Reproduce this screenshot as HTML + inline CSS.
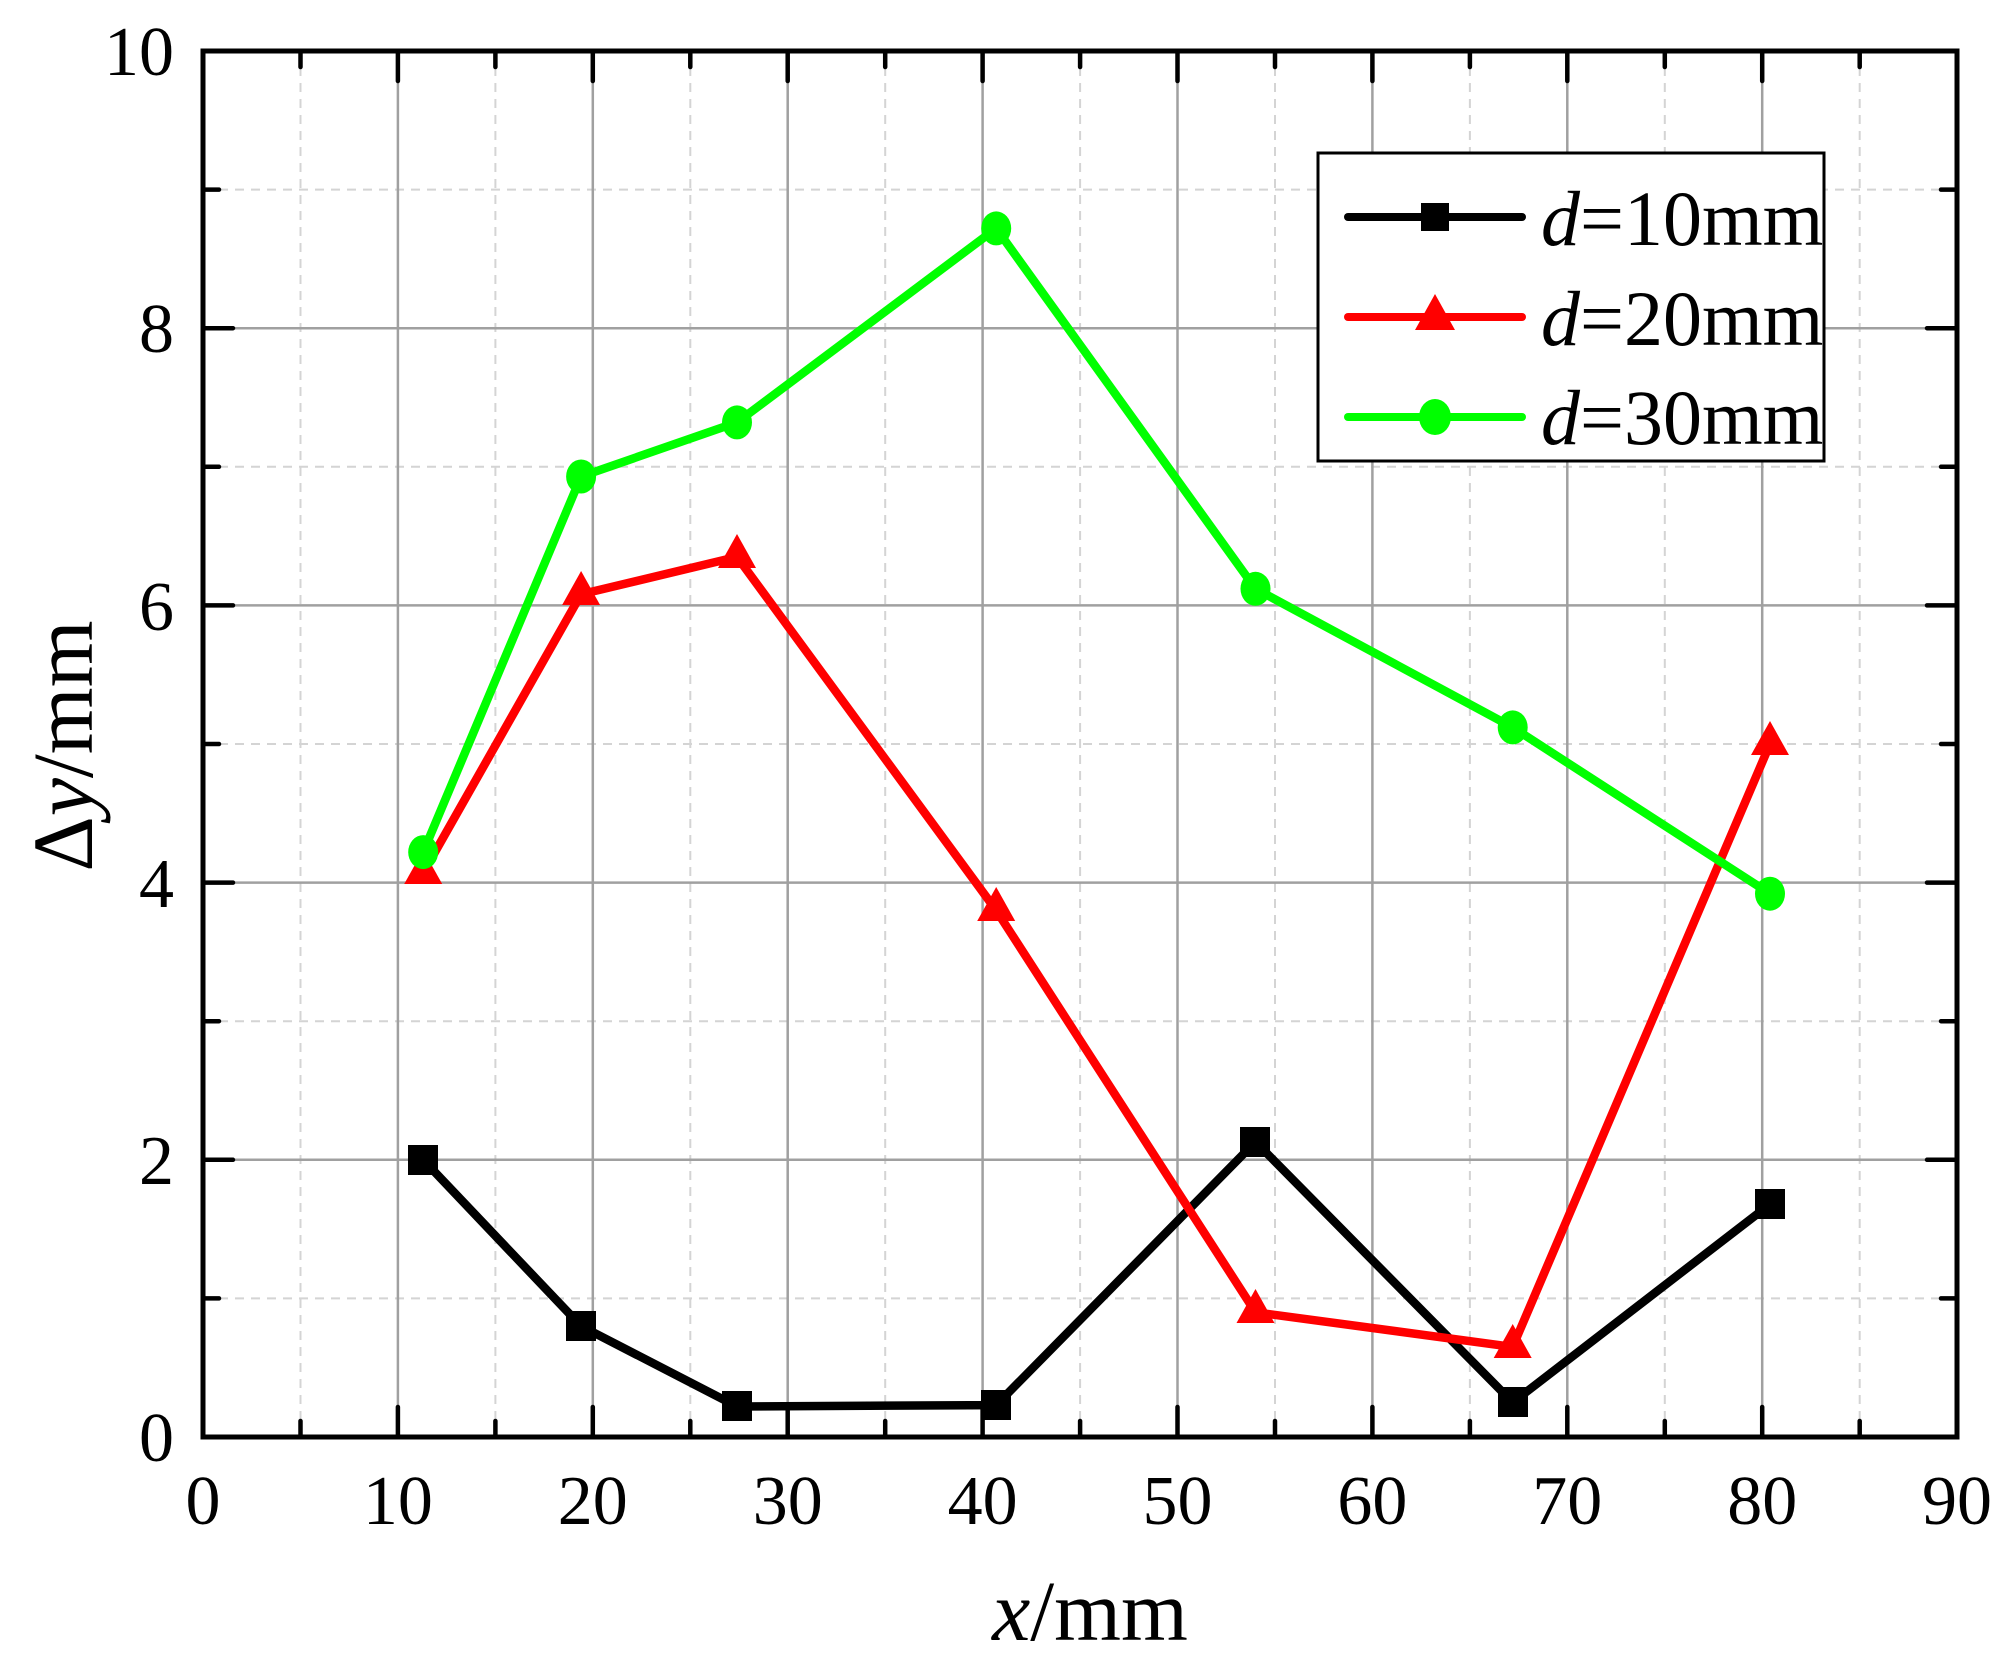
<!DOCTYPE html>
<html><head><meta charset="utf-8"><style>html,body{margin:0;padding:0;background:#fff}svg{display:block}svg text{font-family:"Liberation Serif","Times New Roman",serif}</style></head>
<body>
<svg width="2014" height="1669" viewBox="0 0 2014 1669" xmlns="http://www.w3.org/2000/svg" font-family="'Liberation Serif', serif">
<rect width="2014" height="1669" fill="#fff"/>
<g stroke="#d4d4d4" stroke-width="2" stroke-dasharray="9,7">
<line x1="300.5" y1="51" x2="300.5" y2="1437"/><line x1="495.4" y1="51" x2="495.4" y2="1437"/><line x1="690.3" y1="51" x2="690.3" y2="1437"/><line x1="885.2" y1="51" x2="885.2" y2="1437"/><line x1="1080.1" y1="51" x2="1080.1" y2="1437"/><line x1="1275" y1="51" x2="1275" y2="1437"/><line x1="1469.9" y1="51" x2="1469.9" y2="1437"/><line x1="1664.8" y1="51" x2="1664.8" y2="1437"/><line x1="1859.7" y1="51" x2="1859.7" y2="1437"/>
<line x1="203" y1="1298.4" x2="1957" y2="1298.4"/><line x1="203" y1="1021.2" x2="1957" y2="1021.2"/><line x1="203" y1="744" x2="1957" y2="744"/><line x1="203" y1="466.8" x2="1957" y2="466.8"/><line x1="203" y1="189.6" x2="1957" y2="189.6"/>
</g>
<g stroke="#a0a0a0" stroke-width="2.5">
<line x1="397.9" y1="51" x2="397.9" y2="1437"/><line x1="592.8" y1="51" x2="592.8" y2="1437"/><line x1="787.7" y1="51" x2="787.7" y2="1437"/><line x1="982.6" y1="51" x2="982.6" y2="1437"/><line x1="1177.5" y1="51" x2="1177.5" y2="1437"/><line x1="1372.4" y1="51" x2="1372.4" y2="1437"/><line x1="1567.3" y1="51" x2="1567.3" y2="1437"/><line x1="1762.2" y1="51" x2="1762.2" y2="1437"/>
<line x1="203" y1="1159.8" x2="1957" y2="1159.8"/><line x1="203" y1="882.6" x2="1957" y2="882.6"/><line x1="203" y1="605.4" x2="1957" y2="605.4"/><line x1="203" y1="328.2" x2="1957" y2="328.2"/>
</g>
<g stroke="#000" stroke-width="4.5" stroke-linecap="round">
<path d="M397.9 1437v-30M592.8 1437v-30M787.7 1437v-30M982.6 1437v-30M1177.5 1437v-30M1372.4 1437v-30M1567.3 1437v-30M1762.2 1437v-30"/>
<path d="M300.5 1437v-16M495.4 1437v-16M690.3 1437v-16M885.2 1437v-16M1080.1 1437v-16M1275 1437v-16M1469.9 1437v-16M1664.8 1437v-16M1859.7 1437v-16"/>
<path d="M397.9 51v30M592.8 51v30M787.7 51v30M982.6 51v30M1177.5 51v30M1372.4 51v30M1567.3 51v30M1762.2 51v30"/>
<path d="M300.5 51v16M495.4 51v16M690.3 51v16M885.2 51v16M1080.1 51v16M1275 51v16M1469.9 51v16M1664.8 51v16M1859.7 51v16"/>
<path d="M203 1159.8h30M203 882.6h30M203 605.4h30M203 328.2h30M203 1298.4h16M203 1021.2h16M203 744h16M203 466.8h16M203 189.6h16"/>
<path d="M1957 1159.8h-30M1957 882.6h-30M1957 605.4h-30M1957 328.2h-30M1957 1298.4h-16M1957 1021.2h-16M1957 744h-16M1957 466.8h-16M1957 189.6h-16"/>
</g>
<rect x="203" y="51" width="1754" height="1386" fill="none" stroke="#000" stroke-width="5"/>
<g fill="none" stroke-width="8.5" stroke-linejoin="round" stroke-linecap="round">
<polyline stroke="#000" points="423.2,1159.8 581.1,1326.1 737,1406.5 996.2,1405.1 1255.5,1141.8 1512.7,1402.4 1770,1204.2"/>
<polyline stroke="#ff0000" points="423.2,872.9 581.1,594.3 737,556.9 996.2,910.3 1255.5,1312.3 1512.7,1346.9 1770,744"/>
<polyline stroke="#00ff00" points="423.2,852.1 581.1,476.5 737,422.4 996.2,228.4 1255.5,588.8 1512.7,727.4 1770,893.7"/>
</g>
<g fill="#000">
<rect x="408" y="1145" width="30" height="30"/><rect x="566" y="1311" width="30" height="30"/><rect x="722" y="1391" width="30" height="30"/><rect x="981" y="1390" width="30" height="30"/><rect x="1240" y="1127" width="30" height="30"/><rect x="1498" y="1387" width="30" height="30"/><rect x="1755" y="1189" width="30" height="30"/>
</g>
<g fill="#ff0000">
<path d="M423.2 850l19 34h-38z"/><path d="M581.1 571l19 34h-38z"/><path d="M737 534l19 34h-38z"/><path d="M996.2 887l19 34h-38z"/><path d="M1255.5 1289l19 34h-38z"/><path d="M1512.7 1324l19 34h-38z"/><path d="M1770 721l19 34h-38z"/>
</g>
<g fill="#00ff00">
<ellipse cx="423.2" cy="852.1" rx="15" ry="17"/><ellipse cx="581.1" cy="476.5" rx="15" ry="17"/><ellipse cx="737" cy="422.4" rx="15" ry="17"/><ellipse cx="996.2" cy="228.4" rx="15" ry="17"/><ellipse cx="1255.5" cy="588.8" rx="15" ry="17"/><ellipse cx="1512.7" cy="727.4" rx="15" ry="17"/><ellipse cx="1770" cy="893.7" rx="15" ry="17"/>
</g>
<rect x="1318" y="153" width="506" height="308" fill="#fff" stroke="#000" stroke-width="3"/>
<g stroke-width="8" stroke-linecap="round">
<line x1="1348" y1="217" x2="1522" y2="217" stroke="#000"/>
<line x1="1348" y1="317" x2="1522" y2="317" stroke="#ff0000"/>
<line x1="1348" y1="417" x2="1522" y2="417" stroke="#00ff00"/>
</g>
<rect x="1421" y="203" width="28" height="28" fill="#000"/>
<path d="M1435 294l20 36h-40z" fill="#ff0000"/>
<ellipse cx="1435" cy="417" rx="16" ry="18" fill="#00ff00"/>
<g font-size="78" fill="#000">
<text x="1541" y="245"><tspan font-style="italic">d</tspan>=10mm</text>
<text x="1541" y="345"><tspan font-style="italic">d</tspan>=20mm</text>
<text x="1541" y="444"><tspan font-style="italic">d</tspan>=30mm</text>
</g>
<g font-size="70" fill="#000" text-anchor="middle">
<text x="203" y="1524">0</text><text x="397.9" y="1524">10</text><text x="592.8" y="1524">20</text><text x="787.7" y="1524">30</text><text x="982.6" y="1524">40</text><text x="1177.5" y="1524">50</text><text x="1372.4" y="1524">60</text><text x="1567.3" y="1524">70</text><text x="1762.2" y="1524">80</text><text x="1957" y="1524">90</text>
</g>
<g font-size="70" fill="#000" text-anchor="end">
<text x="174" y="1461">0</text><text x="174" y="1184">2</text><text x="174" y="907">4</text><text x="174" y="630">6</text><text x="174" y="352">8</text><text x="174" y="75">10</text>
</g>
<text x="1090" y="1640" font-size="86" text-anchor="middle"><tspan font-style="italic">x</tspan>/mm</text>
<text transform="translate(92,746) rotate(-90)" font-size="86" text-anchor="middle">Δ<tspan font-style="italic">y</tspan>/mm</text>
</svg>
</body></html>
